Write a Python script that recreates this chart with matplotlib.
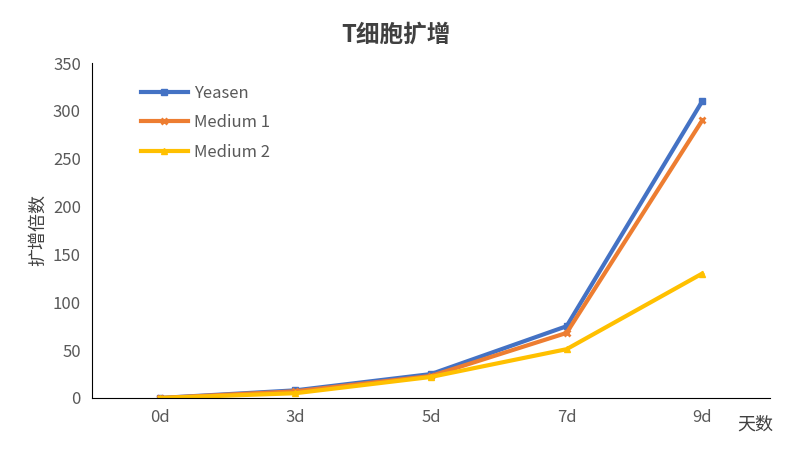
import matplotlib.pyplot as plt

plt.rcParams['font.family'] = ['Noto Sans CJK SC', 'DejaVu Sans']

days = ['0d', '3d', '5d', '7d', '9d']
yeasen = [0, 8, 25, 75, 310]
medium1 = [0, 7, 23, 68, 290]
medium2 = [0, 5, 22, 51, 130]

fig = plt.figure(figsize=(7.92, 4.51), dpi=100)
ax = fig.add_axes([92 / 792, 53 / 451, 678 / 792, 335 / 451])

x = [i + 0.5 for i in range(len(days))]
ax.plot(x, yeasen, color='#4472C4', lw=3, marker='s', ms=5, label='Yeasen')
ax.plot(x, medium1, color='#ED7D31', lw=3, marker='x', ms=5, mew=2, label='Medium 1')
ax.plot(x, medium2, color='#FFC000', lw=3, marker='^', ms=5, label='Medium 2')

ax.set_xlim(0, 5)
ax.set_ylim(0, 350)
ax.set_xticks(x)
ax.set_xticklabels(days)
ax.set_yticks(range(0, 351, 50))
ax.tick_params(length=0, labelsize=12, colors='#595959', pad=8)
for s in ['top', 'right']:
    ax.spines[s].set_visible(False)
ax.spines['left'].set_color('black')
ax.spines['bottom'].set_color('black')

ax.set_ylabel('扩增倍数', fontsize=13, color='#404040')
fig.text(755 / 792, 1 - 425 / 451, '天数', fontsize=13, color='#404040', ha='center', va='center')
fig.text(0.5, 1 - 35 / 451, 'T细胞扩增', fontsize=17, fontweight='bold', color='#404040', ha='center', va='center')

ax.legend(loc='upper left', bbox_to_anchor=(0.05, 0.98), frameon=False, fontsize=12,
          handlelength=2.8, handletextpad=0.4, labelspacing=0.75, labelcolor='#595959')

fig.savefig('out.png', dpi=100)
